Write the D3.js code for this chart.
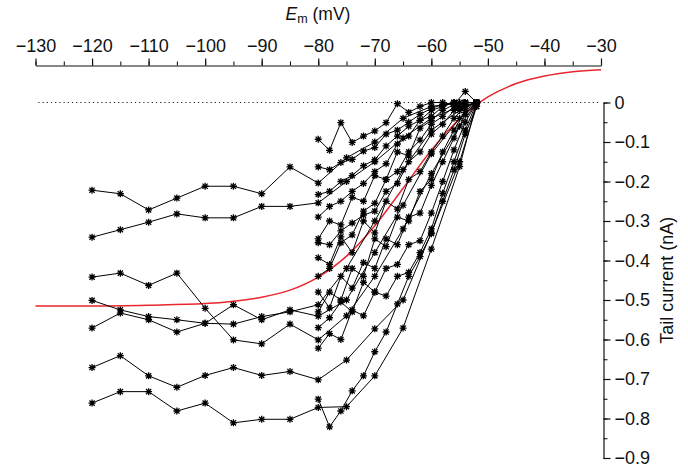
<!DOCTYPE html>
<html>
<head>
<meta charset="utf-8">
<script src="https://d3js.org/d3.v7.min.js"></script>
<style>
  body { margin: 0; background: #fff; }
  svg text { font-family: "Liberation Sans", Arial, sans-serif; }
</style>
</head>
<body>
<div id="chart"></div>
<script>
// voltages (mV) of the protocol steps
var vLong = [-120, -115, -110, -105, -100, -95, -90, -85, -80, -75, -70, -65, -60, -55, -52];
var vShort = [-80, -78, -76, -74, -72, -70, -68, -66, -64, -62, -60, -58, -56, -54, -52];

// tail currents (nA), traces recorded from -120 mV
var longTraces = [
  [-0.222, -0.231, -0.272, -0.242, -0.212, -0.212, -0.231, -0.163, -0.204, -0.140, -0.100, -0.040, -0.010, 0.000, 0.000],
  [-0.341, -0.322, -0.303, -0.282, -0.292, -0.292, -0.263, -0.263, -0.254, -0.200, -0.150, -0.090, -0.040, -0.010, 0.000],
  [-0.442, -0.432, -0.463, -0.432, -0.521, -0.601, -0.611, -0.561, -0.601, -0.540, -0.440, -0.320, -0.180, -0.060, 0.000],
  [-0.501, -0.525, -0.542, -0.550, -0.559, -0.512, -0.550, -0.525, -0.541, -0.500, -0.380, -0.260, -0.130, -0.040, 0.000],
  [-0.571, -0.533, -0.550, -0.581, -0.559, -0.561, -0.542, -0.530, -0.512, -0.420, -0.300, -0.170, -0.070, -0.020, 0.000],
  [-0.671, -0.641, -0.692, -0.721, -0.691, -0.671, -0.691, -0.681, -0.702, -0.652, -0.573, -0.500, -0.330, -0.150, -0.010],
  [-0.761, -0.732, -0.732, -0.781, -0.761, -0.811, -0.802, -0.802, -0.772, -0.770, -0.692, -0.571, -0.371, -0.162, 0.000]
];

// tail currents (nA), traces recorded from -80 mV
var shortTraces = [
  [-0.093, -0.121, -0.051, -0.101, -0.085, -0.072, -0.051, -0.003, -0.025, -0.010, 0.000, 0.000, -0.005, 0.028, 0.000],
  [-0.163, -0.170, -0.152, -0.144, -0.123, -0.114, -0.080, -0.070, -0.050, -0.030, -0.015, -0.005, 0.000, 0.000, 0.000],
  [-0.233, -0.225, -0.200, -0.185, -0.160, -0.145, -0.110, -0.085, -0.060, -0.045, -0.020, -0.010, 0.000, 0.000, 0.000],
  [-0.345, -0.300, -0.310, -0.240, -0.250, -0.185, -0.195, -0.125, -0.135, -0.065, -0.045, -0.020, -0.005, 0.000, 0.000],
  [-0.355, -0.360, -0.325, -0.305, -0.285, -0.275, -0.225, -0.205, -0.150, -0.125, -0.080, -0.055, -0.020, -0.010, 0.000],
  [-0.393, -0.410, -0.340, -0.380, -0.300, -0.330, -0.250, -0.270, -0.195, -0.175, -0.125, -0.085, -0.040, -0.010, 0.000],
  [-0.530, -0.480, -0.500, -0.420, -0.440, -0.345, -0.365, -0.290, -0.300, -0.225, -0.195, -0.125, -0.070, -0.020, 0.000],
  [-0.570, -0.545, -0.505, -0.530, -0.455, -0.480, -0.420, -0.410, -0.360, -0.350, -0.280, -0.200, -0.120, -0.050, 0.000],
  [-0.622, -0.585, -0.600, -0.525, -0.540, -0.480, -0.490, -0.440, -0.430, -0.380, -0.320, -0.230, -0.150, -0.070, 0.000],
  [-0.751, -0.821, -0.781, -0.730, -0.692, -0.631, -0.581, -0.510, -0.440, -0.390, -0.332, -0.250, -0.170, -0.080, -0.010],
  [-0.290, -0.263, -0.250, -0.225, -0.205, -0.175, -0.155, -0.105, -0.085, -0.045, -0.035, -0.010, 0.000, 0.000, 0.000],
  [-0.480, -0.520, -0.440, -0.470, -0.405, -0.420, -0.345, -0.360, -0.290, -0.280, -0.210, -0.150, -0.090, -0.030, 0.000],
  [-0.440, -0.420, -0.355, -0.335, -0.275, -0.255, -0.195, -0.175, -0.125, -0.095, -0.055, -0.035, -0.010, 0.000, 0.000]
];

// red fitted curve
var fitV = [-130, -120, -110, -100, -95, -90, -85, -80, -75, -70, -65, -60, -55, -50, -45, -40, -35, -30];
var fitI = [-0.515, -0.515, -0.513, -0.509, -0.503, -0.493, -0.475, -0.442, -0.389, -0.312, -0.217, -0.121, -0.041, 0.014, 0.048, 0.067, 0.078, 0.083];

var xTicks = [-130, -120, -110, -100, -90, -80, -70, -60, -50, -40, -30];
var yTicks = [0, -0.1, -0.2, -0.3, -0.4, -0.5, -0.6, -0.7, -0.8, -0.9];

var W = 688, H = 467;

var svg = d3.select("#chart")
  .append("svg")
  .attr("width", W)
  .attr("height", H);

var x = d3.scaleLinear()
  .domain([-130, -30])
  .range([35.5, 601]);

var y = d3.scaleLinear()
  .domain([0, -0.9])
  .range([102.5, 458]);

create_axes();
create_fit();
create_traces();

function create_axes() {
  // top axis, minor ticks every 5 mV
  svg.append("g")
    .attr("transform", "translate(0,65.5)")
    .call(d3.axisTop(x).ticks(20).tickSize(4).tickFormat(""))
    .call(g => g.select(".domain").remove());

  var gx = svg.append("g")
    .attr("transform", "translate(0,65.5)")
    .call(d3.axisTop(x).tickValues(xTicks).tickSize(7).tickSizeOuter(0).tickFormat(d3.format("d")));
  gx.selectAll("text").attr("font-size", 18).attr("fill", "#111").attr("dy", "-0.2em");

  gx.selectAll("line, path").attr("stroke", "#111").attr("stroke-width", 1.2);

  var title = svg.append("text")
    .attr("x", 318)
    .attr("y", 20)
    .attr("text-anchor", "middle")
    .attr("font-size", 17.5)
    .attr("fill", "#111");
  title.append("tspan").attr("font-style", "italic").text("E");
  title.append("tspan").attr("font-size", 12.5).attr("dy", 3).text("m");
  title.append("tspan").attr("dy", -3).text(" (mV)");

  // right axis, minor ticks every 0.05 nA
  svg.append("g")
    .attr("transform", "translate(603.5,0)")
    .call(d3.axisRight(y).ticks(18).tickSize(4).tickFormat(""))
    .call(g => g.select(".domain").remove());

  var gy = svg.append("g")
    .attr("transform", "translate(603.5,0)")
    .call(d3.axisRight(y).tickValues(yTicks).tickSize(7).tickSizeOuter(0)
      .tickFormat(d => d === 0 ? "0" : d3.format(".1f")(d)));
  gy.selectAll("text").attr("font-size", 18).attr("fill", "#111").attr("dx", "0.05em");
  gy.selectAll("line, path").attr("stroke", "#111").attr("stroke-width", 1.2);

  svg.append("text")
    .attr("transform", "translate(673," + y(-0.45) + ") rotate(-90)")
    .attr("text-anchor", "middle")
    .attr("font-size", 18)
    .attr("fill", "#111")
    .text("Tail current (nA)");

  // dotted zero line
  svg.append("line")
    .attr("x1", x(-129.5))
    .attr("x2", x(-30.5))
    .attr("y1", y(0))
    .attr("y2", y(0))
    .attr("stroke", "#222")
    .attr("stroke-width", 1.2)
    .attr("stroke-dasharray", "1.2,3");
};

function create_traces() {
  var line = d3.line()
    .x(d => x(d[0]))
    .y(d => y(d[1]));

  var all = longTraces.map(t => t.map((v, i) => [vLong[i], v]))
    .concat(shortTraces.map(t => t.map((v, i) => [vShort[i], v])));

  var g = svg.append("g");

  g.selectAll("path.trace")
    .data(all)
    .join("path")
      .attr("class", "trace")
      .attr("fill", "none")
      .attr("stroke", "#000")
      .attr("stroke-width", 1)
      .attr("d", line);

  // asterisk markers
  var star = "M-3.5,0H3.5M0,-3.5V3.5M-2.6,-2.6L2.6,2.6M-2.6,2.6L2.6,-2.6";
  g.selectAll("path.mark")
    .data(all.flat())
    .join("path")
      .attr("class", "mark")
      .attr("transform", d => "translate(" + x(d[0]) + "," + y(d[1]) + ")")
      .attr("d", star)
      .attr("fill", "none")
      .attr("stroke", "#000")
      .attr("stroke-width", 1.3);
};

function create_fit() {
  svg.append("path")
    .datum(fitV.map((v, i) => [v, fitI[i]]))
    .attr("fill", "none")
    .attr("stroke", "#e8262d")
    .attr("stroke-width", 1.5)
    .attr("d", d3.line()
      .x(d => x(d[0]))
      .y(d => y(d[1]))
      .curve(d3.curveMonotoneX));
};
</script>
</body>
</html>
